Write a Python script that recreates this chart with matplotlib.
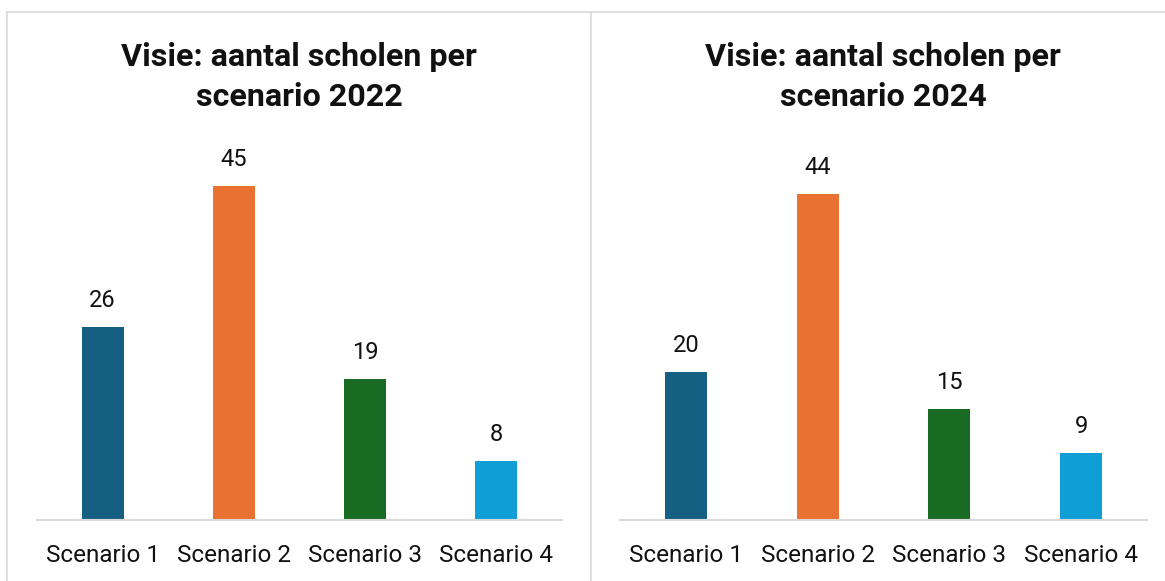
import matplotlib.pyplot as plt
from matplotlib.lines import Line2D

plt.rcParams['font.family'] = ['Roboto', 'DejaVu Sans']

scenarios = ['Scenario 1', 'Scenario 2', 'Scenario 3', 'Scenario 4']
waarden_2022 = [26, 45, 19, 8]
waarden_2024 = [20, 44, 15, 9]
titels = ['Visie: aantal scholen per\nscenario 2022', 'Visie: aantal scholen per\nscenario 2024']
kleuren = ['#156082', '#E97132', '#196B24', '#0F9ED5']

W, H = 1165, 581
fig = plt.figure(figsize=(W / 100, H / 100), dpi=100)

grijs = '#D9D9D9'

# randen van de twee grafiekvakken
fig.add_artist(Line2D([7 / W, 1], [1 - 12 / H, 1 - 12 / H], color=grijs, lw=1.2))
fig.add_artist(Line2D([7 / W, 7 / W], [0, 1 - 12 / H], color=grijs, lw=1.2))
fig.add_artist(Line2D([591 / W, 591 / W], [0, 1 - 12 / H], color=grijs, lw=1.2))

asx = [(37, 562), (620, 1147)]
titel_x = [299, 883]
basis_y = 520
top_y = 149

for i, waarden in enumerate([waarden_2022, waarden_2024]):
    x0, x1 = asx[i]
    ax = fig.add_axes([x0 / W, 1 - basis_y / H, (x1 - x0) / W, (basis_y - top_y) / H])
    pos = range(len(scenarios))
    bars = ax.bar(pos, waarden, width=0.32, color=kleuren)
    for b, v in zip(bars, waarden):
        ax.text(b.get_x() + b.get_width() / 2, v + 2.0, str(v), ha='center', va='bottom',
                fontsize=17, color='#111111', clip_on=False)
    ax.set_xlim(-0.5, 3.5)
    ax.set_ylim(0, 50)
    ax.set_xticks(list(pos))
    ax.set_xticklabels(scenarios, fontsize=17.5, color='#111111')
    ax.tick_params(axis='x', length=0, pad=17)
    ax.set_yticks([])
    for s in ['top', 'right', 'left']:
        ax.spines[s].set_visible(False)
    ax.spines['bottom'].set_color(grijs)
    ax.spines['bottom'].set_linewidth(1.5)
    ax.patch.set_alpha(0)
    fig.text(titel_x[i] / W, 1 - 77 / H, titels[i], ha='center', va='center',
             fontsize=23.2, fontweight='bold', color='#111111', linespacing=1.4)

fig.savefig('out.png', dpi=100)
